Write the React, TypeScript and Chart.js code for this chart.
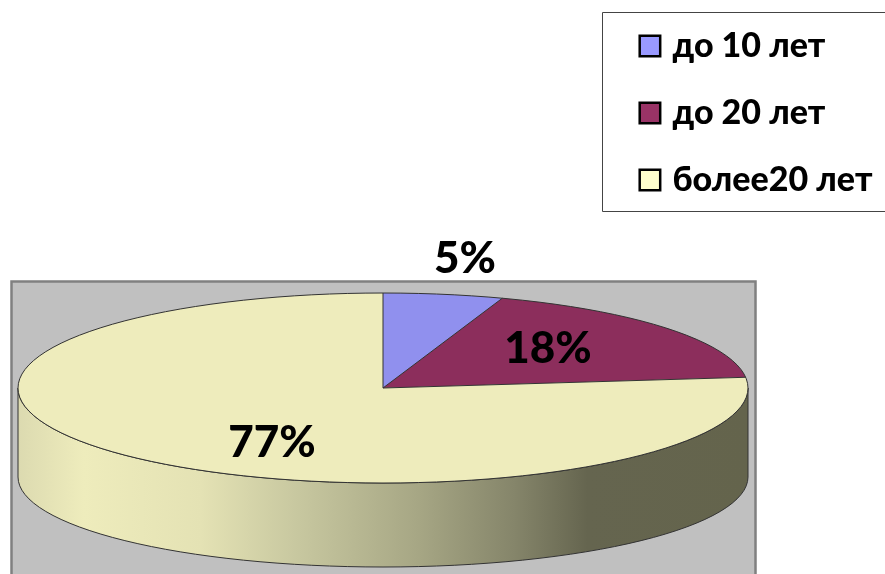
import React, { useEffect, useRef } from "react";
import { Chart, registerables } from "chart.js";

Chart.register(...registerables);

const categories = ["до 10 лет", "до 20 лет", "более20 лет"];
const shares = [5.3, 17.9, 76.8];
const sliceColors = ["#9090ee", "#8c2e5c", "#eeecbc"];
const legendColors = ["#9999ff", "#993366", "#ffffcc"];

const FONT = "Lato, Carlito, 'Open Sans', sans-serif";
const CX = 383, CY = 388, RX = 365, RY = 95, DEPTH = 89, RY_LOW = 90;
const labelAnchors = [[465, 259], [548, 349], [272, 443]];

const pie3d = {
  id: "pie3d",
  beforeDraw(chart: any) {
    const c = chart.ctx;
    c.save();
    c.fillStyle = "#ffffff";
    c.fillRect(0, 0, chart.width, chart.height);
    c.fillStyle = "#c0c0c0";
    c.strokeStyle = "#808080";
    c.lineWidth = 2.5;
    c.beginPath();
    c.rect(11.5, 281.5, 744, 300);
    c.fill();
    c.stroke();
    c.fillStyle = "#ffffff";
    c.strokeStyle = "#444444";
    c.lineWidth = 1;
    c.beginPath();
    c.rect(602.5, 12.5, 290, 199);
    c.fill();
    c.stroke();
    c.restore();
  },
  afterLayout(chart: any) {
    const lg = chart.legend;
    const labels = lg.options.labels;
    const pad = labels.padding;
    const itemH = Math.max(labels.font.size, labels.boxHeight);
    lg.left = 644.45 - pad;
    lg.top = 46 - itemH / 2 - pad;
    lg.right = 885;
    lg.bottom = 574;
    lg.width = lg.right - lg.left;
    lg.height = lg.bottom - lg.top;
  },
  beforeDatasetsDraw(chart: any) {
    const c = chart.ctx;
    const arc = chart.getDatasetMeta(0).data[0];
    c.save();
    // side wall of the disc
    const g = c.createLinearGradient(CX - RX, 0, CX + RX, 0);
    g.addColorStop(0, "#dcdab0");
    g.addColorStop(0.09, "#eeecbc");
    g.addColorStop(0.25, "#e4e2b4");
    g.addColorStop(0.38, "#c8c8a0");
    g.addColorStop(0.55, "#a6a684");
    g.addColorStop(0.68, "#85856a");
    g.addColorStop(0.78, "#65654f");
    g.addColorStop(1, "#64644c");
    c.beginPath();
    c.ellipse(CX, CY, RX, RY, 0, 0, Math.PI);
    c.lineTo(CX - RX, CY + DEPTH);
    c.ellipse(CX, CY + DEPTH, RX, RY_LOW, 0, Math.PI, 0, true);
    c.closePath();
    c.fillStyle = g;
    c.fill();
    c.strokeStyle = "#333333";
    c.lineWidth = 1;
    c.stroke();
    c.restore();
    c.save();
    c.translate(CX, CY);
    c.scale(RX / arc.outerRadius, RY / arc.outerRadius);
    c.translate(-arc.x, -arc.y);
  },
  afterDatasetsDraw(chart: any) {
    const c = chart.ctx;
    c.restore();
    const arcs = chart.getDatasetMeta(0).data;
    c.save();
    c.strokeStyle = "#333333";
    c.lineWidth = 1;
    c.beginPath();
    c.ellipse(CX, CY, RX, RY, 0, 0, Math.PI * 2);
    arcs.forEach((a: any) => {
      c.moveTo(CX, CY);
      c.lineTo(CX + RX * Math.cos(a.startAngle), CY + RY * Math.sin(a.startAngle));
    });
    c.stroke();
    const values = chart.data.datasets[0].data as number[];
    const total = values.reduce((s, v) => s + v, 0);
    c.fillStyle = "#000000";
    c.font = `900 44px ${FONT}`;
    c.textAlign = "center";
    c.textBaseline = "middle";
    values.forEach((v, i) => {
      c.fillText(`${Math.round((v / total) * 100)}%`, labelAnchors[i][0], labelAnchors[i][1]);
    });
    c.restore();
  },
};

export default function App() {
  const ref = useRef<HTMLCanvasElement>(null);
  useEffect(() => {
    const chart = new Chart(ref.current!, {
      type: "pie",
      data: {
        labels: categories,
        datasets: [{ data: shares, backgroundColor: sliceColors, borderWidth: 0 }],
      },
      options: {
        animation: false,
        responsive: false,
        devicePixelRatio: 1,
        plugins: {
          tooltip: { enabled: false },
          legend: {
            position: "right",
            align: "start",
            labels: {
              color: "#000000",
              font: { family: FONT, size: 34, weight: "900" },
              usePointStyle: true,
              boxWidth: 11,
              boxHeight: 20.5,
              padding: 33,
              generateLabels: () =>
                categories.map((text, i) => ({
                  text,
                  fillStyle: legendColors[i],
                  strokeStyle: "#000000",
                  lineWidth: 2.5,
                  pointStyle: "rect",
                  index: i,
                })),
            },
          },
        },
      },
      plugins: [pie3d],
    } as any);
    return () => chart.destroy();
  }, []);
  return (
    <div style={{ position: "fixed", left: 0, top: 0, width: 885, height: 574, overflow: "hidden", background: "#fff" }}>
      <canvas ref={ref} width={885} height={574} style={{ display: "block" }} />
    </div>
  );
}
